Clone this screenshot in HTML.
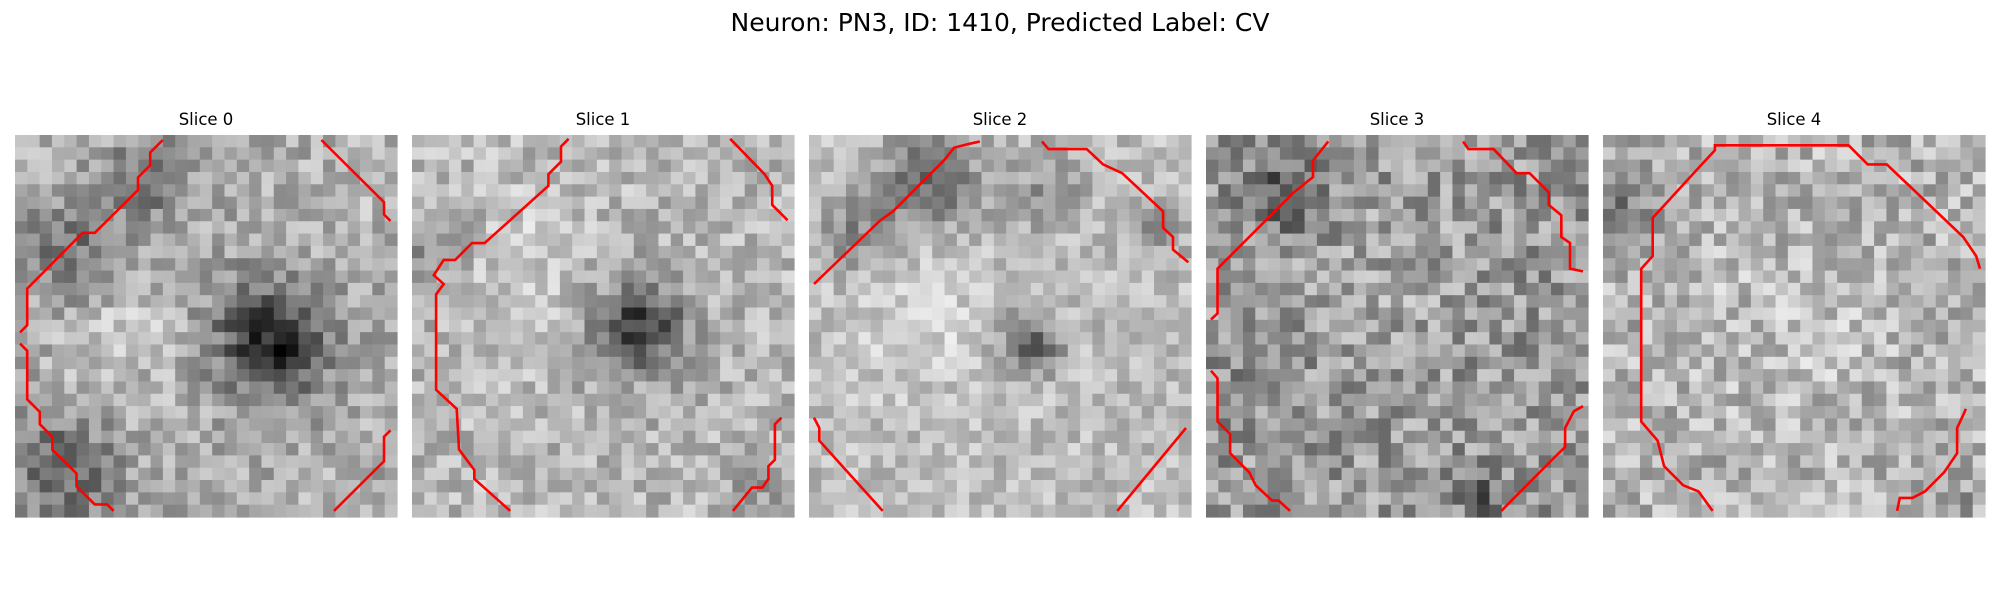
<!DOCTYPE html>
<html><head><meta charset="utf-8"><style>
html,body{margin:0;padding:0;background:#fff;}
svg{display:block;font-family:"DejaVu Sans","Liberation Sans",sans-serif;}
</style></head><body>
<svg id="fig" width="2000" height="600" viewBox="0 0 2000 600">
<text x="1000" y="31" text-anchor="middle" font-size="25" fill="#000">Neuron: PN3, ID: 1410, Predicted Label: CV</text>
</svg>
<script>
// ---- data ----
const sliceLabels = ["Slice 0","Slice 1","Slice 2","Slice 3","Slice 4"];
const gridSize = 31;
const baseLevels = [0.68, 0.72, 0.74, 0.6, 0.7];
const noiseAmp = [0.16, 0.15, 0.13, 0.2, 0.18];
// blobs: [cx, cy, radius, delta] in unit panel coords
const blobs0 = [[0.68,0.55,0.13,-0.45],[0.62,0.5,0.2,-0.12],[0.15,0.3,0.14,-0.22],[0.35,0.12,0.12,-0.2],[0.12,0.88,0.14,-0.3],[0.3,0.5,0.18,0.1],[0.88,0.15,0.12,0.05]];
const blobs1 = [[0.6,0.5,0.1,-0.4],[0.58,0.5,0.18,-0.12],[0.3,0.35,0.2,0.08],[0.05,0.3,0.12,-0.15],[0.92,0.9,0.1,-0.1]];
const blobs2 = [[0.32,0.12,0.12,-0.35],[0.12,0.25,0.1,-0.2],[0.62,0.15,0.1,-0.15],[0.58,0.55,0.08,-0.35],[0.9,0.25,0.08,-0.15],[0.3,0.5,0.2,0.08]];
const blobs3 = [[0.2,0.15,0.1,-0.25],[0.5,0.4,0.2,0.05],[0.72,0.95,0.06,-0.25],[0.1,0.6,0.1,-0.05]];
const blobs4 = [[0.05,0.2,0.1,-0.2],[0.5,0.5,0.3,0.05],[0.9,0.95,0.1,-0.1]];
const allBlobs = [blobs0, blobs1, blobs2, blobs3, blobs4];
// contours in unit panel coords
const contours0 = [
 [[0.387,0.013],[0.354,0.046],[0.354,0.079],[0.322,0.111],[0.322,0.144],[0.209,0.256],[0.177,0.256],[0.032,0.402],[0.032,0.498],[0.013,0.517]],
 [[0.013,0.546],[0.032,0.565],[0.032,0.692],[0.065,0.725],[0.065,0.757],[0.098,0.79],[0.098,0.824],[0.161,0.886],[0.161,0.92],[0.209,0.967],[0.241,0.967],[0.258,0.984]],
 [[0.802,0.013],[0.966,0.176],[0.966,0.208],[0.983,0.225]],
 [[0.983,0.773],[0.966,0.79],[0.966,0.854],[0.835,0.984]]];
const contours1 = [
 [[0.41,0.01],[0.39,0.03],[0.39,0.07],[0.357,0.103],[0.357,0.133],[0.19,0.283],[0.157,0.283],[0.113,0.327],[0.083,0.327],[0.057,0.367],[0.083,0.39],[0.063,0.417],[0.063,0.667],[0.117,0.717],[0.123,0.823],[0.163,0.877],[0.163,0.9],[0.257,0.984]],
 [[0.833,0.01],[0.923,0.103],[0.943,0.133],[0.943,0.183],[0.983,0.223]],
 [[0.967,0.74],[0.95,0.757],[0.95,0.85],[0.933,0.867],[0.933,0.9],[0.917,0.923],[0.89,0.923],[0.84,0.984]]];
const contours2 = [
 [[0.447,0.017],[0.42,0.023],[0.38,0.033],[0.353,0.067],[0.22,0.2],[0.187,0.223],[0.013,0.39]],
 [[0.61,0.017],[0.627,0.037],[0.727,0.037],[0.77,0.077],[0.82,0.1],[0.927,0.2],[0.927,0.243],[0.953,0.267],[0.953,0.3],[0.993,0.333]],
 [[0.013,0.74],[0.027,0.767],[0.027,0.8],[0.193,0.984]],
 [[0.987,0.767],[0.807,0.984]]];
const contours3 = [
 [[0.32,0.017],[0.28,0.067],[0.28,0.11],[0.23,0.15],[0.047,0.333],[0.03,0.35],[0.03,0.467],[0.013,0.483]],
 [[0.673,0.017],[0.687,0.037],[0.753,0.037],[0.813,0.1],[0.847,0.1],[0.897,0.15],[0.897,0.183],[0.93,0.21],[0.93,0.267],[0.953,0.283],[0.953,0.35],[0.987,0.357]],
 [[0.013,0.617],[0.03,0.637],[0.03,0.75],[0.063,0.783],[0.063,0.833],[0.113,0.883],[0.13,0.917],[0.173,0.957],[0.19,0.957],[0.22,0.984]],
 [[0.987,0.71],[0.963,0.723],[0.94,0.767],[0.94,0.817],[0.913,0.843],[0.773,0.984]]];
const contours4 = [
 [[0.987,0.35],[0.977,0.317],[0.943,0.267],[0.743,0.077],[0.693,0.077],[0.643,0.027],[0.293,0.027],[0.293,0.04],[0.253,0.083],[0.13,0.217],[0.13,0.317],[0.1,0.35],[0.1,0.75],[0.143,0.8],[0.16,0.867],[0.21,0.917],[0.25,0.933],[0.287,0.984]],
 [[0.95,0.717],[0.943,0.733],[0.927,0.767],[0.927,0.833],[0.893,0.883],[0.843,0.933],[0.81,0.95],[0.777,0.95],[0.77,0.984]]];
const allContours = [contours0, contours1, contours2, contours3, contours4];
// ---- layout ----
const panelX = k => 15 + 397 * k;
const panelY = 135, panelSize = 382;
const NS = "http://www.w3.org/2000/svg";
const svg = document.getElementById("fig");
function hash(a,b,c){let h=(a*374761393+b*668265263+c*2147483647)|0;h=(h^(h>>>13))*1274126177|0;h^=h>>>16;return ((h>>>0)%10000)/10000;}
function value(k,i,j){
  const u=(j+0.5)/gridSize, v=(i+0.5)/gridSize;
  let val=baseLevels[k]+(hash(k+1,i,j)-0.5)*2*noiseAmp[k];
  for(const b of allBlobs[k]){const d2=((u-b[0])**2+(v-b[1])**2)/(b[2]*b[2]);val+=b[3]*Math.exp(-d2);}
  return Math.max(0,Math.min(1,val));
}
for(let k=0;k<sliceLabels.length;k++){
  const g=document.createElementNS(NS,"g");
  
  
  svg.appendChild(g);
  const t=document.createElementNS(NS,"text");
  
  
  t.setAttribute("x",panelX(k)+panelSize/2);t.setAttribute("y",125);
  t.setAttribute("text-anchor","middle");t.setAttribute("font-size","16.5");
  t.textContent=sliceLabels[k];g.appendChild(t);
  const cs=panelSize/gridSize;
  for(let i=0;i<gridSize;i++)for(let j=0;j<gridSize;j++){
    const r=document.createElementNS(NS,"rect");
    
    
    const x0=panelX(k)+j*cs,y0=panelY+i*cs;
    r.setAttribute("x",x0.toFixed(2));r.setAttribute("y",y0.toFixed(2));
    r.setAttribute("width",(cs+0.6).toFixed(2));r.setAttribute("height",(cs+0.6).toFixed(2));
    const gv=Math.round(value(k,i,j)*255);
    r.setAttribute("fill",`rgb(${gv},${gv},${gv})`);
    g.appendChild(r);
  }
  allContours[k].forEach((c,ci)=>{
    const p=document.createElementNS(NS,"polyline");
    
    
    p.setAttribute("points",c.map(q=>(panelX(k)+q[0]*panelSize).toFixed(1)+","+(panelY+q[1]*panelSize).toFixed(1)).join(" "));
    p.setAttribute("fill","none");p.setAttribute("stroke","#ff0000");p.setAttribute("stroke-width","2.6");
    g.appendChild(p);
  });
}
</script>
</body></html>
